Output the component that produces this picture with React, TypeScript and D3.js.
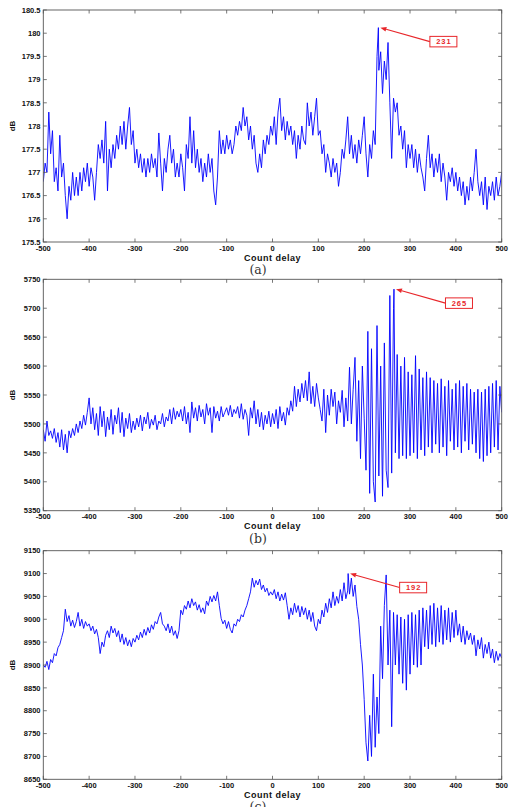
import React from 'react';
import * as d3 from 'd3';

// Count delay axis: samples every 4 counts from -500 to 500
const delayStart = -500;
const delayStep = 4;

// (a) correlation level in dB
const seriesA = [
  176.8, 177.2, 177.0, 178.3, 177.4, 177.9, 176.8, 177.1, 176.6, 177.8, 176.9, 177.2, 176.5, 176.0, 176.7, 176.4, 177.0, 176.5, 176.9, 176.5, 177.0, 176.6, 177.1, 176.8, 177.2,
  176.7, 177.1, 176.9, 176.4, 177.0, 177.6, 177.3, 177.7, 177.2, 178.1, 176.6, 177.5, 177.1, 177.6, 177.3, 177.8, 177.5, 178.0, 177.6, 178.1, 177.5, 178.0, 178.4, 177.6, 177.9,
  177.2, 177.5, 177.1, 177.4, 177.0, 177.3, 176.9, 177.3, 177.0, 177.4, 177.1, 177.3, 176.9, 177.85, 177.2, 176.6, 177.3, 177.0, 177.5, 177.8, 177.2, 177.5, 176.9, 177.2, 176.9,
  177.4, 177.1, 176.6, 177.6, 177.3, 178.2, 177.2, 177.9, 177.1, 177.5, 177.0, 177.3, 176.8, 177.2, 176.9, 177.4, 177.0, 177.3, 176.6, 176.3, 176.9, 177.9, 177.4, 177.7, 177.4,
  177.8, 177.5, 177.7, 177.4, 177.6, 178.0, 177.8, 178.1, 177.9, 178.4, 178.0, 178.2, 177.7, 178.0, 177.5, 177.8, 177.2, 177.0, 177.4, 177.1, 177.7, 177.4, 177.8, 177.6, 178.0,
  177.8, 178.2, 177.6, 178.3, 178.6, 177.9, 178.2, 177.7, 178.1, 177.8, 178.0, 177.6, 177.9, 177.3, 177.8, 177.5, 178.0, 177.7, 177.6, 178.5, 178.0, 178.3, 177.8, 178.2, 178.6,
  177.8, 177.9, 177.4, 177.6, 177.0, 177.4, 177.2, 176.9, 177.3, 177.0, 177.2, 176.7, 177.0, 177.5, 177.3, 177.7, 178.2, 177.4, 177.8, 177.3, 177.6, 177.2, 177.7, 177.4, 177.8,
  178.2, 177.4, 176.9, 177.6, 177.3, 177.9, 177.6, 179.5, 179.2, 179.6, 178.7, 179.4, 179.0, 179.8, 178.5, 177.3, 178.6, 178.3, 178.5, 177.8, 178.0, 177.5, 177.9, 177.1, 177.6,
  177.3, 177.6, 177.1, 177.5, 177.0, 177.4, 177.1, 176.9, 176.6, 177.3, 177.8, 177.1, 177.4, 176.9, 177.3, 177.0, 177.4, 176.8, 177.2, 176.9, 176.4, 177.0, 176.8, 177.1, 176.7,
  177.0, 176.6, 176.9, 176.5, 176.8, 176.3, 176.7, 176.4, 176.9, 176.6, 177.0, 177.5, 176.8, 176.5, 176.8, 176.3, 176.9, 176.2, 176.7, 176.5, 176.8, 176.4, 176.9, 176.5, 176.7, 177.0,
];

// (b)
const seriesB = [
  5490, 5470, 5505, 5480, 5488, 5475, 5492, 5468, 5485, 5460, 5490, 5455, 5482, 5450, 5488, 5476, 5492, 5480, 5500, 5485, 5505, 5492, 5515, 5498, 5520,
  5545, 5500, 5528, 5490, 5518, 5480, 5530, 5495, 5522, 5478, 5512, 5490, 5525, 5482, 5515, 5500, 5528, 5485, 5520, 5478, 5510, 5492, 5518, 5485, 5505,
  5490, 5510, 5495, 5515, 5488, 5512, 5500, 5520, 5492, 5508, 5498, 5515, 5490, 5505, 5500, 5518, 5495, 5512, 5505, 5525, 5500, 5528, 5508, 5522, 5512,
  5525, 5505, 5530, 5500, 5520, 5485, 5538, 5510, 5528, 5505, 5532, 5512, 5525, 5500, 5535, 5515, 5528, 5485, 5530, 5510, 5522, 5505, 5530, 5512, 5520,
  5528, 5515, 5532, 5512, 5525, 5518, 5530, 5510, 5535, 5508, 5525, 5515, 5480, 5528, 5510, 5540, 5500, 5525, 5495, 5520, 5490, 5515, 5500, 5522, 5495,
  5518, 5500, 5525, 5492, 5530, 5505, 5520, 5498, 5528, 5515, 5540, 5522, 5565, 5530, 5560, 5538, 5570, 5545, 5575, 5540, 5590, 5535, 5565, 5530, 5570,
  5545, 5525, 5505, 5560, 5485, 5550, 5515, 5560, 5530, 5555, 5500, 5540, 5520, 5558, 5495, 5545, 5505, 5598, 5500, 5560, 5615, 5470, 5575, 5440, 5600,
  5510, 5420, 5660, 5380, 5630, 5400, 5365, 5670, 5410, 5600, 5375, 5640, 5420, 5390, 5722, 5415, 5700, 5450, 5620, 5440, 5600, 5445, 5615, 5440, 5590,
  5445, 5585, 5450, 5618, 5440, 5595, 5455, 5580, 5445, 5590, 5460, 5580, 5450, 5575, 5465, 5570, 5450, 5578, 5460, 5565, 5445, 5575, 5470, 5560, 5455,
  5570, 5460, 5575, 5450, 5565, 5470, 5570, 5455, 5560, 5465, 5555, 5450, 5560, 5440, 5555, 5435, 5560, 5445, 5565, 5450, 5570, 5460, 5575, 5455, 5565, 5520,
];

// (c)
const seriesC = [
  8900, 8895, 8908, 8890, 8912, 8905, 8925, 8920, 8938, 8945, 8960, 8975, 9022, 8995, 9008, 8985, 8998, 8982, 8995, 9015, 8985, 9000, 8980, 8995, 8985,
  8990, 8975, 8985, 8968, 8978, 8960, 8925, 8950, 8940, 8965, 8975, 8960, 8985, 8970, 8980, 8962, 8975, 8950, 8968, 8945, 8960, 8942, 8955, 8940, 8958,
  8950, 8965, 8955, 8972, 8960, 8978, 8965, 8982, 8970, 8988, 8978, 8995, 8990, 9005, 9015, 8990, 8985, 8975, 8990, 8970, 8985, 8965, 8975, 8958, 8975,
  9020, 9010, 9030, 9022, 9040, 9025, 9045, 9030, 9038, 9020, 9032, 9015, 9025, 9012, 9040, 9030, 9050, 9038, 9052, 9040, 9060, 9030, 9002, 8990, 8998,
  8980, 8995, 8978, 8970, 8990, 8985, 9000, 8995, 9010, 9005, 9020, 9030, 9045, 9060, 9090, 9070, 9085, 9075, 9088, 9065, 9075, 9060, 9068, 9052, 9060,
  9053, 9065, 9045, 9060, 9040, 9055, 9042, 9058, 9030, 9000, 9025, 9010, 9035, 9015, 9030, 9005, 9028, 9010, 9025, 9000, 9020, 8995, 9015, 8985, 8975,
  9000, 8990, 9020, 9005, 9035, 9015, 9045, 9025, 9060, 9030, 9050, 9035, 9065, 9040, 9080, 9045, 9062, 9055, 9090, 9050, 9075, 9028, 9000, 8945, 8900,
  8825, 8730, 8690, 8790, 8700, 8880, 8720, 8830, 8750, 8985, 8870, 9030, 9097, 8900, 9020, 8765, 9015, 8900, 9010, 8880, 9005, 8860, 9000, 8845, 9010,
  8880, 9015, 8900, 9010, 8895, 9020, 8900, 9025, 8940, 9020, 8935, 9030, 8945, 9035, 8940, 9025, 8950, 9030, 8945, 9020, 8955, 9025, 8950, 9015, 8960,
  9020, 8965, 8990, 8950, 8985, 8945, 8975, 8955, 8970, 8945, 8965, 8920, 8955, 8935, 8960, 8915, 8945, 8925, 8950, 8915, 8935, 8905, 8930, 8910, 8925, 8915,
];

// Marked maxima (count delay, level) and their callout labels
const peakDelays = [231, 265, 165];
const peakValues = [180.12, 5733, 9100];
const peakLabels = ['231', '265', '192'];

const xTicks = [-500, -400, -300, -200, -100, 0, 100, 200, 300, 400, 500];
const yTicksA = [175.5, 176, 176.5, 177, 177.5, 178, 178.5, 179, 179.5, 180, 180.5];
const yTicksB = [5350, 5400, 5450, 5500, 5550, 5600, 5650, 5700, 5750];
const yTicksC = [8650, 8700, 8750, 8800, 8850, 8900, 8950, 9000, 9050, 9100, 9150];
const captions = ['(a)', '(b)', '(c)'];
const xTitle = 'Count delay';
const yTitle = 'dB';

// Layout
const W = 513;
const H = 807;
const plotLeft = 43.3;
const plotRight = 501.7;
const panelTops = [10, 279.3, 550.7];
const panelBottoms = [242, 510.7, 779.3];
const tickLen = 3.5;
const axisColor = '#555';
const traceColor = '#0000ff';
const noteColor = '#e8262a';
const sansBold = { fontFamily: 'Liberation Sans, Arial, sans-serif', fontWeight: 700 as const };

type Pt = [number, number];

function Panel({ idx, values, yTicks }: { idx: number; values: number[]; yTicks: number[] }) {
  const top = panelTops[idx];
  const bottom = panelBottoms[idx];
  const x = d3.scaleLinear().domain([xTicks[0], xTicks[xTicks.length - 1]]).range([plotLeft, plotRight]);
  const y = d3.scaleLinear().domain([yTicks[0], yTicks[yTicks.length - 1]]).range([bottom, top]);

  const pd = peakDelays[idx];
  const pv = peakValues[idx];
  const pts: Pt[] = values
    .map((v, i) => [delayStart + i * delayStep, v] as Pt)
    .filter((p) => p[0] !== pd)
    .concat([[pd, pv] as Pt])
    .sort((a, b) => a[0] - b[0]);

  const line = d3.line<Pt>().x((d) => x(d[0])).y((d) => y(d[1]));

  // callout geometry
  const tipX = x(pd) + 2;
  const tipY = y(pv);
  const boxW = 27;
  const boxH = 10.5;
  const boxCx = x(pd) + 65;
  const boxCy = y(pv) + 14;
  const startX = boxCx - boxW / 2;
  const startY = boxCy;
  const dx = tipX - startX;
  const dy = tipY - startY;
  const len = Math.hypot(dx, dy);
  const ux = dx / len;
  const uy = dy / len;
  const headL = 6;
  const headW = 2.4;
  const bx = tipX - ux * headL;
  const by = tipY - uy * headL;
  const head = `${tipX},${tipY} ${bx - uy * headW},${by + ux * headW} ${bx + uy * headW},${by - ux * headW}`;

  const midY = (top + bottom) / 2;

  return (
    <g>
      <rect x={plotLeft} y={top} width={plotRight - plotLeft} height={bottom - top} fill="#fff" />
      <clipPath id={`clip${idx}`}>
        <rect x={plotLeft} y={top - 1} width={plotRight - plotLeft} height={bottom - top + 2} />
      </clipPath>
      <path
        d={line(pts) || ''}
        fill="none"
        stroke={traceColor}
        strokeWidth={0.9}
        strokeLinejoin="round"
        clipPath={`url(#clip${idx})`}
      />
      {/* frame */}
      <rect
        x={plotLeft}
        y={top}
        width={plotRight - plotLeft}
        height={bottom - top}
        fill="none"
        stroke={axisColor}
        strokeWidth={0.9}
      />
      {/* x ticks, bottom and top, pointing inward */}
      {xTicks.map((t) => (
        <g key={`x${t}`}>
          <line x1={x(t)} x2={x(t)} y1={bottom} y2={bottom - tickLen} stroke={axisColor} strokeWidth={0.8} />
          <line x1={x(t)} x2={x(t)} y1={top} y2={top + tickLen} stroke={axisColor} strokeWidth={0.8} />
          <text
            x={x(t)}
            y={bottom + 8.6}
            textAnchor="middle"
            fontSize={7.5}
            fill="#111"
            {...sansBold}
          >
            {t}
          </text>
        </g>
      ))}
      {/* y ticks, left and right */}
      {yTicks.map((t) => (
        <g key={`y${t}`}>
          <line x1={plotLeft} x2={plotLeft + tickLen} y1={y(t)} y2={y(t)} stroke={axisColor} strokeWidth={0.8} />
          <line x1={plotRight} x2={plotRight - tickLen} y1={y(t)} y2={y(t)} stroke={axisColor} strokeWidth={0.8} />
          <text
            x={plotLeft - 2.8}
            y={y(t) + 2.7}
            textAnchor="end"
            fontSize={7.5}
            fill="#111"
            {...sansBold}
          >
            {String(t)}
          </text>
        </g>
      ))}
      <text
        x={12.5}
        y={midY}
        transform={`rotate(-90 12.5 ${midY})`}
        textAnchor="middle"
        dominantBaseline="central"
        fontSize={8}
        fill="#111"
        {...sansBold}
      >
        {yTitle}
      </text>
      <text
        x={(plotLeft + plotRight) / 2}
        y={bottom + 18.5}
        textAnchor="middle"
        fontSize={9}
        letterSpacing={0.5}
        fill="#111"
        {...sansBold}
      >
        {xTitle}
      </text>
      <text
        x={258}
        y={bottom + 32}
        textAnchor="middle"
        fontSize={12.5}
        fill="#333"
        fontFamily="DejaVu Serif, serif"
      >
        {captions[idx]}
      </text>
      {/* callout */}
      <line x1={startX} y1={startY} x2={bx} y2={by} stroke={noteColor} strokeWidth={1.1} />
      <polygon points={head} fill={noteColor} />
      <rect
        x={boxCx - boxW / 2}
        y={boxCy - boxH / 2}
        width={boxW}
        height={boxH}
        fill="#fff"
        stroke={noteColor}
        strokeWidth={1}
      />
      <text
        x={boxCx + 0.5}
        y={boxCy + 2.7}
        textAnchor="middle"
        fontSize={7.5}
        letterSpacing={1}
        fill={noteColor}
        {...sansBold}
      >
        {peakLabels[idx]}
      </text>
    </g>
  );
}

export default function App() {
  return (
    <svg
      width={W}
      height={H}
      viewBox={`0 0 ${W} ${H}`}
      style={{ position: 'absolute', left: 0, top: 0, background: '#fff' }}
    >
      <rect width={W} height={H} fill="#fff" />
      <Panel idx={0} values={seriesA} yTicks={yTicksA} />
      <Panel idx={1} values={seriesB} yTicks={yTicksB} />
      <Panel idx={2} values={seriesC} yTicks={yTicksC} />
    </svg>
  );
}
